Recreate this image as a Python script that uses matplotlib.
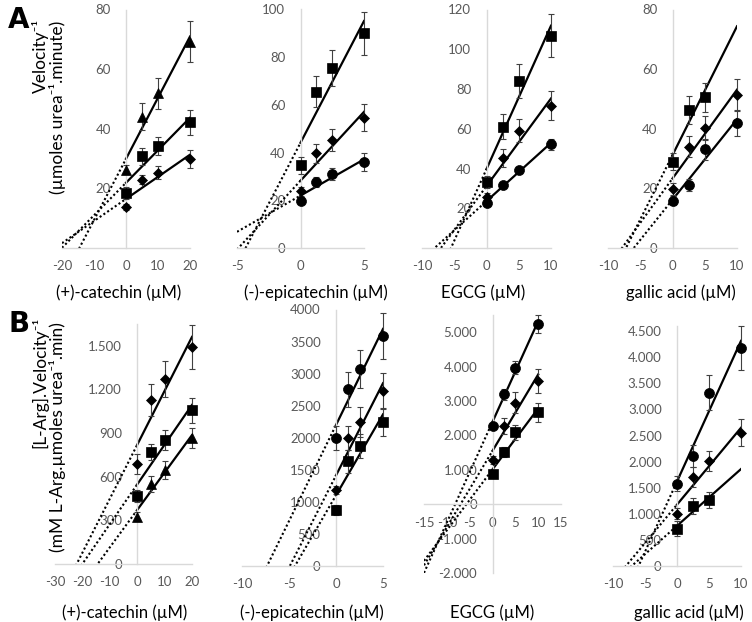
import numpy as np
import matplotlib
matplotlib.use("Agg")
import matplotlib.pyplot as plt

plt.rcParams['font.family'] = ['Lato', 'DejaVu Sans']

# ---- data ----
X_CAT = [0, 5, 10, 20]
X_EPI = [0, 1.25, 2.5, 5]
X_EGCG = [0, 2.5, 5, 10]
X_GAL = [0, 2.5, 5, 10]

# A: Velocity^-1
A_CAT_TRI = [26.2, 44.1, 51.9, 69.2]
A_CAT_TRI_ERR = [1.5, 4.6, 5.2, 6.9]
A_CAT_SQ = [18.6, 30.7, 34.3, 42.1]
A_CAT_SQ_ERR = [2.0, 2.8, 3.0, 4.2]
A_CAT_DIA = [13.7, 22.9, 25.3, 29.9]
A_CAT_DIA_ERR = [1.0, 1.5, 2.3, 2.9]

A_EPI_SQ = [34.6, 65.6, 75.6, 90.0]
A_EPI_SQ_ERR = [3.5, 6.5, 7.5, 9.0]
A_EPI_DIA = [23.7, 39.7, 45.3, 54.7]
A_EPI_DIA_ERR = [2.0, 4.0, 4.7, 5.5]
A_EPI_CIR = [19.9, 27.6, 31.0, 36.0]
A_EPI_CIR_ERR = [1.5, 2.0, 2.5, 3.7]

A_EGCG_SQ = [33.0, 61.1, 84.2, 106.8]
A_EGCG_SQ_ERR = [3.0, 6.3, 8.5, 10.8]
A_EGCG_DIA = [25.9, 45.2, 59.1, 71.5]
A_EGCG_DIA_ERR = [2.0, 4.6, 6.0, 7.3]
A_EGCG_CIR = [22.6, 31.5, 39.3, 52.2]
A_EGCG_CIR_ERR = [1.5, 1.0, 1.5, 2.7]

A_GAL_SQ = [29.0, 46.3, 50.6]
A_GAL_SQ_ERR = [3.0, 4.7, 4.9]
A_GAL_DIA = [19.9, 34.0, 40.2, 51.3]
A_GAL_DIA_ERR = [2.0, 3.5, 4.1, 5.3]
A_GAL_CIR = [15.8, 21.2, 33.1, 41.9]
A_GAL_CIR_ERR = [1.5, 2.0, 3.6, 4.3]

# B: [L-Arg].Velocity^-1
B_CAT_DIA = [686, 1129, 1271, 1490]
B_CAT_DIA_ERR = [68, 110, 125, 150]
B_CAT_SQ = [468, 767, 854, 1056]
B_CAT_SQ_ERR = [40, 55, 70, 85]
B_CAT_TRI = [326, 549, 647, 865]
B_CAT_TRI_ERR = [30, 55, 63, 70]

B_EPI_CIR = [2000, 2755, 3073, 3589]
B_EPI_CIR_ERR = [190, 270, 300, 360]
B_EPI_DIA = [1182, 2000, 2250, 2734]
B_EPI_DIA_ERR = [65, 190, 235, 270]
B_EPI_SQ = [870, 1635, 1875, 2240]
B_EPI_SQ_ERR = [80, 180, 190, 215]

B_EGCG_CIR = [2282, 3194, 3971, 5243]
B_EGCG_CIR_ERR = [90, 155, 180, 260]
B_EGCG_DIA = [1282, 2272, 2951, 3583]
B_EGCG_DIA_ERR = [115, 230, 300, 350]
B_EGCG_SQ = [864, 1524, 2087, 2670]
B_EGCG_SQ_ERR = [40, 145, 220, 275]

B_GAL_CIR = [1579, 2110, 3325, 4182]
B_GAL_CIR_ERR = [150, 210, 340, 420]
B_GAL_DIA = [1004, 1707, 2014, 2558]
B_GAL_DIA_ERR = [100, 190, 195, 255]
B_GAL_SQ = [716, 1151, 1260]
B_GAL_SQ_ERR = [140, 155, 155]

XLABELS = ["(+)-catechin (µM)", "(-)-epicatechin (µM)", "EGCG (µM)", "gallic acid (µM)"]

W, H = 752, 622
fig = plt.figure(figsize=(W / 100, H / 100), dpi=100)

MK = {"tri": dict(marker="^", ms=7.5), "sq": dict(marker="s", ms=6.5),
      "dia": dict(marker="D", ms=5.2), "cir": dict(marker="o", ms=7.2)}


def fmt_dot(v):
    return f"{v:,.0f}".replace(",", ".")


def panel(box, xlim, ylim, xticks, yticks, series, xmax, xlabel, xlabel_pos,
          ylabfmt=fmt_dot, hide_zero=False):
    left, right, top, bottom = box
    ax = fig.add_axes([left / W, 1 - bottom / H, (right - left) / W, (bottom - top) / H])
    ax.set_xlim(*xlim)
    ax.set_ylim(*ylim)
    for s in ("top", "right"):
        ax.spines[s].set_visible(False)
    ax.spines["left"].set_position(("data", 0))
    ax.spines["bottom"].set_position(("data", 0))
    for s in ("left", "bottom"):
        ax.spines[s].set_color("#d9d9d9")
        ax.spines[s].set_linewidth(1.0)
    ax.set_xticks(xticks)
    ax.set_yticks(yticks)
    ax.set_xticklabels([f"{t:g}" for t in xticks])
    ylabs = [ylabfmt(t) for t in yticks]
    if hide_zero:
        ylabs = ["" if t == 0 else l for t, l in zip(yticks, ylabs)]
    ax.set_yticklabels(ylabs)
    ax.tick_params(length=0, labelsize=9.5, colors="#595959", pad=9)
    ax.tick_params(axis="y", pad=11)
    ax.patch.set_visible(False)

    for x, y, e, kind in series:
        x = np.asarray(x, float)
        y = np.asarray(y, float)
        k, b = np.polyfit(x, y, 1)
        xs = np.array([0, xmax])
        ax.plot(xs, b + k * xs, color="black", lw=1.6, zorder=2)
        xd = np.array([xlim[0], 0])
        ax.plot(xd, b + k * xd, color="black", lw=1.5, ls=(0, (1, 1.2)), zorder=2)
        ax.errorbar(x, y, yerr=e, fmt="none", ecolor="#404040", elinewidth=0.8,
                    capsize=2.5, capthick=0.8, zorder=3, clip_on=False)
        ax.plot(x, y, ls="none", color="black", mec="black", mew=0.5, zorder=4,
                clip_on=False, **MK[kind])

    fig.text(xlabel_pos[0] / W, 1 - xlabel_pos[1] / H, xlabel, ha="center",
             va="center", fontsize=12)
    return ax


# row A
panel((62, 190, 9.5, 248), (-20, 20), (0, 80), [-20, -10, 0, 10, 20], range(0, 81, 20),
      [(X_CAT, A_CAT_TRI, A_CAT_TRI_ERR, "tri"),
       (X_CAT, A_CAT_SQ, A_CAT_SQ_ERR, "sq"),
       (X_CAT, A_CAT_DIA, A_CAT_DIA_ERR, "dia")], 20, XLABELS[0], (119, 293),
      hide_zero=True)
panel((237, 364, 9.5, 248), (-5, 5), (0, 100), [-5, 0, 5], range(0, 101, 20),
      [(X_EPI, A_EPI_SQ, A_EPI_SQ_ERR, "sq"),
       (X_EPI, A_EPI_DIA, A_EPI_DIA_ERR, "dia"),
       (X_EPI, A_EPI_CIR, A_EPI_CIR_ERR, "cir")], 5, XLABELS[1], (316, 293))
panel((422, 551, 9.5, 248), (-10, 10), (0, 120), [-10, -5, 0, 5, 10], range(0, 121, 20),
      [(X_EGCG, A_EGCG_SQ, A_EGCG_SQ_ERR, "sq"),
       (X_EGCG, A_EGCG_DIA, A_EGCG_DIA_ERR, "dia"),
       (X_EGCG, A_EGCG_CIR, A_EGCG_CIR_ERR, "cir")], 10, XLABELS[2], (483, 293),
      hide_zero=True)
panel((608, 737, 9.5, 248), (-10, 10), (0, 80), [-10, -5, 0, 5, 10], range(0, 81, 20),
      [(X_GAL[:3], A_GAL_SQ, A_GAL_SQ_ERR, "sq"),
       (X_GAL, A_GAL_DIA, A_GAL_DIA_ERR, "dia"),
       (X_GAL, A_GAL_CIR, A_GAL_CIR_ERR, "cir")], 10, XLABELS[3], (681, 293))

# row B
panel((55, 192, 324, 564), (-30, 20), (0, 1650), [-30, -20, -10, 0, 10, 20],
      range(0, 1501, 300),
      [(X_CAT, B_CAT_DIA, B_CAT_DIA_ERR, "dia"),
       (X_CAT, B_CAT_SQ, B_CAT_SQ_ERR, "sq"),
       (X_CAT, B_CAT_TRI, B_CAT_TRI_ERR, "tri")], 20, XLABELS[0], (125, 613))
panel((242, 383, 309.5, 566), (-10, 5), (0, 4000), [-10, -5, 0, 5], range(0, 4001, 500),
      [(X_EPI, B_EPI_CIR, B_EPI_CIR_ERR, "cir"),
       (X_EPI, B_EPI_DIA, B_EPI_DIA_ERR, "dia"),
       (X_EPI, B_EPI_SQ, B_EPI_SQ_ERR, "sq")], 5, XLABELS[1], (312, 613),
      ylabfmt=lambda v: f"{v:.0f}")
panel((424, 561, 315, 573), (-15, 15), (-2000, 5500), [-15, -10, -5, 0, 5, 10, 15],
      range(-2000, 5001, 1000),
      [(X_EGCG, B_EGCG_CIR, B_EGCG_CIR_ERR, "cir"),
       (X_EGCG, B_EGCG_DIA, B_EGCG_DIA_ERR, "dia"),
       (X_EGCG, B_EGCG_SQ, B_EGCG_SQ_ERR, "sq")], 10, XLABELS[2], (492, 613))
panel((613, 741, 326, 566), (-10, 10), (0, 4600), [-10, -5, 0, 5, 10], range(0, 4501, 500),
      [(X_GAL, B_GAL_CIR, B_GAL_CIR_ERR, "cir"),
       (X_GAL, B_GAL_DIA, B_GAL_DIA_ERR, "dia"),
       (X_GAL[:3], B_GAL_SQ, B_GAL_SQ_ERR, "sq")], 10, XLABELS[3], (689, 613))

# y-axis titles and panel letters
fig.text(40 / W, 1 - 56 / H, "Velocity⁻¹", rotation=90, ha="center", va="center",
         fontsize=12.5)
fig.text(58 / W, 1 - 107 / H, "(µmoles urea⁻¹.minute)", rotation=90, ha="center",
         va="center", fontsize=12.5)
fig.text(40 / W, 1 - 382 / H, "[L-Arg].Velocity⁻¹", rotation=90, ha="center",
         va="center", fontsize=12.5)
fig.text(58 / W, 1 - 437 / H, "(mM L-Arg.µmoles urea⁻¹.min)", rotation=90,
         ha="center", va="center", fontsize=12.5)
fig.text(19 / W, 1 - 20 / H, "A", fontsize=20, fontweight="bold", ha="center", va="center",
         family="DejaVu Sans")
fig.text(19 / W, 1 - 324 / H, "B", fontsize=20, fontweight="bold", ha="center", va="center",
         family="DejaVu Sans")

fig.savefig("out.png", dpi=100)
